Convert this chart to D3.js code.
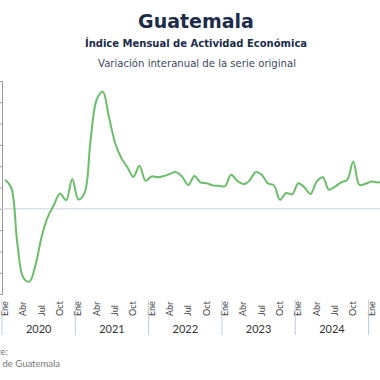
<!DOCTYPE html>
<html>
<head>
<meta charset="utf-8">
<script src="https://cdn.jsdelivr.net/npm/d3@7"></script>
<style>
  body { margin: 0; background: #fff; }
  svg { display: block; overflow: hidden; font-family: "Lato", "Noto Sans", sans-serif; }
  .title { font-family: "DejaVu Sans", sans-serif; }
</style>
</head>
<body>
<div id="chart"></div>
<script>
// data, monthly, jan 2020 .. mar 2025
const years = ["2020", "2021", "2022", "2023", "2024", "2025"]
const monthNames = ["Ene", "Feb", "Mar", "Abr", "May", "Jun", "Jul", "Ago", "Sep", "Oct", "Nov", "Dic"]
const shownMonths = ["Ene", "Abr", "Jul", "Oct"]
const values = [
  6.8, 5.0, -8.0, -16.2, -17.1, -13.1, -6.5, -1.9, 0.9, 3.6, 2.0, 7.0,
  2.2, 3.7, 16.2, 25.6, 27.5, 21.6, 15.5, 12.0, 9.8, 7.5, 10.1, 6.6,
  7.6, 7.4, 7.7, 8.2, 8.6, 7.5, 5.6, 7.7, 6.2, 6.0, 5.5, 5.4,
  5.3, 8.0, 6.6, 5.8, 6.6, 8.6, 8.0, 6.0, 5.5, 2.1, 3.7, 3.4,
  6.0, 5.0, 3.5, 6.4, 7.4, 4.5, 5.2, 6.2, 6.8, 11.1, 5.6, 5.9,
  6.4, 6.2, 6.3
]
const yTicks = [-20, -15, -10, -5, 0, 5, 10, 15, 20, 25, 30]

const data = values.map((v, i) => ({
  i,
  year: years[Math.floor(i / 12)],
  month: monthNames[i % 12],
  value: v
}))

const W = 380, H = 380
const margin = { top: 81, left: 2, bottom: 86 }
const monthW = 6.11

const svg = d3.select("#chart").append("svg")
  .attr("width", W)
  .attr("height", H)

// titles
svg.append("text")
  .attr("class", "title")
  .attr("x", 196).attr("y", 28)
  .attr("text-anchor", "middle")
  .style("font-size", "19px").style("font-weight", "bold")
  .attr("fill", "#1b2b48")
  .text("Guatemala")

svg.append("text")
  .attr("class", "title")
  .attr("x", 196).attr("y", 47)
  .attr("text-anchor", "middle")
  .style("font-size", "10px").style("font-weight", "bold")
  .attr("fill", "#1b2b48")
  .text("Índice Mensual de Actividad Económica")

svg.append("text")
  .attr("class", "title")
  .attr("x", 197).attr("y", 67)
  .attr("text-anchor", "middle")
  .style("font-size", "10.1px")
  .attr("fill", "#3c4858")
  .text("Variación interanual de la serie original")

// scales
const x = d3.scaleBand()
  .domain(data.map(d => d.i))
  .range([margin.left, margin.left + data.length * monthW])

const y = d3.scaleLinear()
  .domain([-20, 30])
  .range([H - margin.bottom, margin.top])

// y axis (labels fall off the left edge, like the reference crop)
const yAxis = svg.append("g")
  .attr("transform", `translate(${margin.left},0)`)
  .call(d3.axisLeft(y).tickValues(yTicks).tickSize(4).tickFormat(d => d + "%"))
yAxis.select(".domain").attr("stroke", "#999")
yAxis.selectAll(".tick line").attr("stroke", "#999")
yAxis.selectAll(".tick text").attr("fill", "#555").style("font-size", "9px")

// zero line
svg.append("line")
  .attr("x1", margin.left).attr("x2", W + 50)
  .attr("y1", y(0)).attr("y2", y(0))
  .attr("stroke", "#c9d3e4")
  .attr("stroke-width", 1)

// series
const line = d3.line()
  .x(d => x(d.i) + x.bandwidth() / 2)
  .y(d => y(d.value))
  .curve(d3.curveCatmullRom.alpha(0.5))

svg.append("path")
  .datum(data)
  .attr("fill", "none")
  .attr("stroke", "#6cbd6a")
  .attr("stroke-width", 2)
  .attr("stroke-linejoin", "round")
  .attr("d", line)

// x axis: month labels, year labels and separators
const axisTop = H - margin.bottom

svg.append("g")
  .selectAll("text")
  .data(data.filter(d => shownMonths.includes(d.month)))
  .join("text")
  .attr("transform", d => `translate(${x(d.i) + x.bandwidth() / 2 + 3},${axisTop + 22}) rotate(-90)`)
  .attr("text-anchor", "start")
  .style("font-size", "9px")
  .attr("fill", "#444")
  .text(d => d.month)

years.forEach(yr => {
  const first = data.find(d => d.year === yr)
  if (!first) return
  const x0 = x(first.i)
  svg.append("line")
    .attr("x1", x0).attr("x2", x0)
    .attr("y1", axisTop + 6).attr("y2", axisTop + 41)
    .attr("stroke", "#bccbe0")
  svg.append("text")
    .attr("x", x0 + 12 * monthW / 2)
    .attr("y", axisTop + 39)
    .attr("text-anchor", "middle")
    .style("font-size", "11px")
    .attr("fill", "#333")
    .text(yr)
})

// source
svg.append("text")
  .attr("x", 8).attr("y", 355)
  .attr("text-anchor", "end")
  .style("font-size", "9.5px")
  .attr("fill", "#777")
  .text("Fuente:")
svg.append("text")
  .attr("x", 60).attr("y", 367)
  .attr("text-anchor", "end")
  .style("font-size", "9.5px")
  .attr("fill", "#777")
  .text("Banco de Guatemala")
</script>
</body>
</html>
